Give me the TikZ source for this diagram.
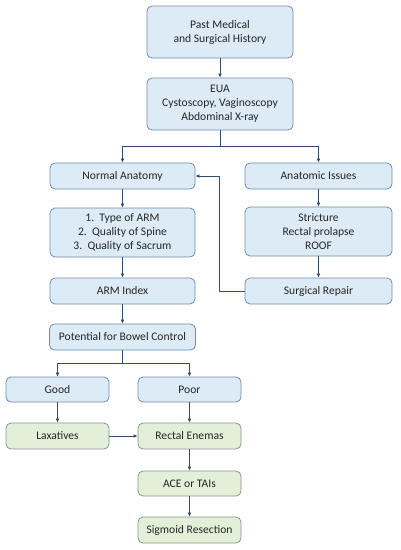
\documentclass[tikz,border=0pt]{standalone}
\usepackage{fontspec}
\setmainfont{Carlito}
\usetikzlibrary{arrows.meta}
\definecolor{bluefill}{HTML}{DDEBF7}
\definecolor{blueline}{HTML}{6D8CAE}
\definecolor{greenfill}{HTML}{E2F0D9}
\definecolor{greenline}{HTML}{8A948A}
\definecolor{arrline}{HTML}{2F4B72}
\begin{document}
\begin{tikzpicture}[x=1pt,y=-1pt,
  line cap=round,line join=round,
  every node/.style={font=\fontsize{11.6}{14}\selectfont,text=black!85},
  B/.style={draw=blueline,fill=bluefill,line width=.8pt,rounded corners=5pt,align=center,inner sep=0pt},
  G/.style={draw=greenline,fill=greenfill,line width=.8pt,rounded corners=5pt,align=center,inner sep=0pt},
  A/.style={draw=arrline,line width=.75pt,-{Latex[length=4pt,width=3.6pt]}},
  L/.style={draw=arrline,line width=.75pt}]

  \useasboundingbox (0,0) rectangle (400,550);

  %% ---- top: history and exam
  \node[B,minimum width=146,minimum height=52] (hist) at (220,32) {Past Medical\\and Surgical History};
  \node[B,minimum width=146,minimum height=52] (eua)  at (220,104) {EUA\\Cystoscopy, Vaginoscopy\\Abdominal X-ray};

  %% ---- two branches: anatomy
  \node[B,minimum width=145,minimum height=26] (normal) at (122.5,176) {Normal Anatomy};
  \node[B,minimum width=147,minimum height=26] (issues) at (318.5,176) {Anatomic Issues};
  \node[B,minimum width=145,minimum height=49] (arm)    at (122.5,232.5) {1.\ \ Type of ARM\\2.\ \ Quality of Spine\\3.\ \ Quality of Sacrum};
  \node[B,minimum width=147,minimum height=49] (stric)  at (318.5,231.5) {Stricture\\Rectal prolapse\\ROOF};
  \node[B,minimum width=145,minimum height=26] (index)  at (122.5,291) {ARM Index};
  \node[B,minimum width=147,minimum height=26] (repair) at (318.5,291) {Surgical Repair};

  %% ---- bowel control
  \node[B,minimum width=146,minimum height=26] (potential) at (122.5,337) {Potential for Bowel Control};
  \node[B,minimum width=103,minimum height=25] (good) at (57.5,389.5) {Good};
  \node[B,minimum width=103,minimum height=25] (poor) at (189.5,389.5) {Poor};

  %% ---- treatments
  \node[G,minimum width=103,minimum height=26] (lax)     at (57.5,436) {Laxatives};
  \node[G,minimum width=103,minimum height=26] (enemas)  at (189.5,436) {Rectal Enemas};
  \node[G,minimum width=103,minimum height=25] (ace)     at (189.5,483.5) {ACE or TAIs};
  \node[G,minimum width=103,minimum height=26] (sigmoid) at (189.5,530) {Sigmoid Resection};

  %% ---- connectors
  \coordinate (split1) at (220,146);
  \coordinate (split2) at (122.5,363);
  \draw[A] (hist) -- (eua);
  \draw[L] (eua) -- (split1);
  \draw[A] (split1) -| (normal);
  \draw[A] (split1) -| (issues);
  \draw[A] (normal) -- (arm);
  \draw[A] (arm) -- (index);
  \draw[A] (issues) -- (stric);
  \draw[A] (stric) -- (repair);
  \draw[A] (repair.west) -- ++(-25,0) |- (normal.east);
  \draw[A] (index) -- (potential);
  \draw[L] (potential) -- (split2);
  \draw[A] (split2) -| (good);
  \draw[A] (split2) -| (poor);
  \draw[A] (good) -- (lax);
  \draw[A] (poor) -- (enemas);
  \draw[A] (lax) -- (enemas);
  \draw[A] (enemas) -- (ace);
  \draw[A] (ace) -- (sigmoid);
\end{tikzpicture}
\end{document}
